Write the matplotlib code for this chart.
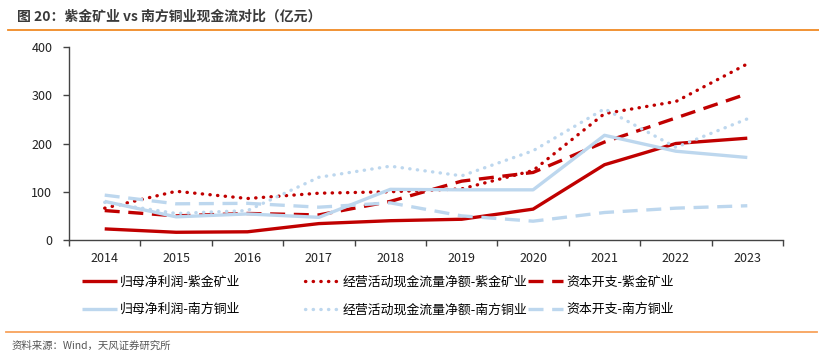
import numpy as np
import matplotlib
matplotlib.use("Agg")
import matplotlib.pyplot as plt
from matplotlib.ticker import FixedLocator

plt.rcParams['font.family'] = ['Noto Sans CJK SC', 'DejaVu Sans']
plt.rcParams['axes.unicode_minus'] = False

# 数据（亿元）
years = ['2014', '2015', '2016', '2017', '2018', '2019', '2020', '2021', '2022', '2023']
zj_profit = [23, 16, 17, 34, 40, 43, 64, 156, 200, 211]
zj_ocf = [66, 101, 86, 97, 100, 106, 144, 262, 287, 365]
zj_capex = [61, 50, 55, 52, 80, 122, 140, 203, 253, 303]
scc_profit = [80, 48, 54, 47, 105, 104, 104, 217, 184, 171]
scc_ocf = [78, 55, 61, 130, 153, 133, 185, 272, 192, 251]
scc_capex = [93, 75, 76, 68, 77, 50, 39, 57, 66, 71]

labels = ['归母净利润-紫金矿业', '经营活动现金流量净额-紫金矿业', '资本开支-紫金矿业',
          '归母净利润-南方铜业', '经营活动现金流量净额-南方铜业', '资本开支-南方铜业']

RED = '#C00000'
BLUE = '#BDD7EE'
DOT = (0, (0.1, 2.2))
DASH = (0, (4.5, 2.6))

fig = plt.figure(figsize=(8.2, 3.57), dpi=100)
ax = fig.add_axes([69/820, 1-240/357, (783-69)/820, (240-47)/357])

x = np.arange(len(years))
series = [
    (zj_profit, RED, '-', 2.4),
    (zj_ocf, RED, DOT, 2.4),
    (zj_capex, RED, DASH, 2.4),
    (scc_profit, BLUE, '-', 2.4),
    (scc_ocf, BLUE, DOT, 2.4),
    (scc_capex, BLUE, DASH, 2.4),
]
handles = []
for (vals, c, ls, lw), lab in zip(series, labels):
    ln, = ax.plot(x, vals, color=c, linestyle=ls, linewidth=lw, label=lab,
                  dash_capstyle='round' if ls == DOT else 'butt',
                  solid_capstyle='butt')
    handles.append(ln)

ax.set_xlim(-0.5, len(years) - 0.5)
ax.set_ylim(0, 400)
ax.set_yticks([0, 100, 200, 300, 400])
ax.set_xticks(x)
ax.set_xticklabels(years)
ax.xaxis.set_minor_locator(FixedLocator(np.arange(len(years) + 1) - 0.5))
ax.tick_params(axis='x', which='major', length=0, pad=9, labelsize=9, colors='#222222')
ax.tick_params(axis='x', which='minor', length=4, width=1, color='#444444', direction='out')
ax.tick_params(axis='y', which='major', length=4, width=1, color='#444444', direction='out',
               labelsize=9, labelcolor='#222222', pad=8)
for s in ['top', 'right']:
    ax.spines[s].set_visible(False)
for s in ['left', 'bottom']:
    ax.spines[s].set_color('#444444')
    ax.spines[s].set_linewidth(1)

# 图例：三列，每列两行
col_x = [82, 305, 528]
for i, cx in enumerate(col_x):
    fig.legend([handles[i], handles[i + 3]], [labels[i], labels[i + 3]],
               loc='upper left', bbox_to_anchor=(cx/820, 1-276/357),
               frameon=False, borderpad=0, borderaxespad=0, fontsize=9.3,
               handlelength=2.7, handletextpad=0.25, labelspacing=1.1)

# 标题与分隔线
fig.text(17/820, 1-17/357, '图 20：紫金矿业 vs 南方铜业现金流对比（亿元）', fontsize=10,
         fontweight='bold', color='#3a3a3a', va='center', ha='left')
fig.add_artist(plt.Line2D([8/820, 1.0], [1-30/357, 1-30/357], color='#F08A24', linewidth=1.3))
fig.add_artist(plt.Line2D([6/820, 817/820], [1-332/357, 1-332/357], color='#F8A25C', linewidth=1.3))
fig.text(12/820, 1-346/357, '资料来源：Wind，天风证券研究所', fontsize=7.5, color='#555555',
         va='center', ha='left')

fig.savefig('out.png', dpi=100)
